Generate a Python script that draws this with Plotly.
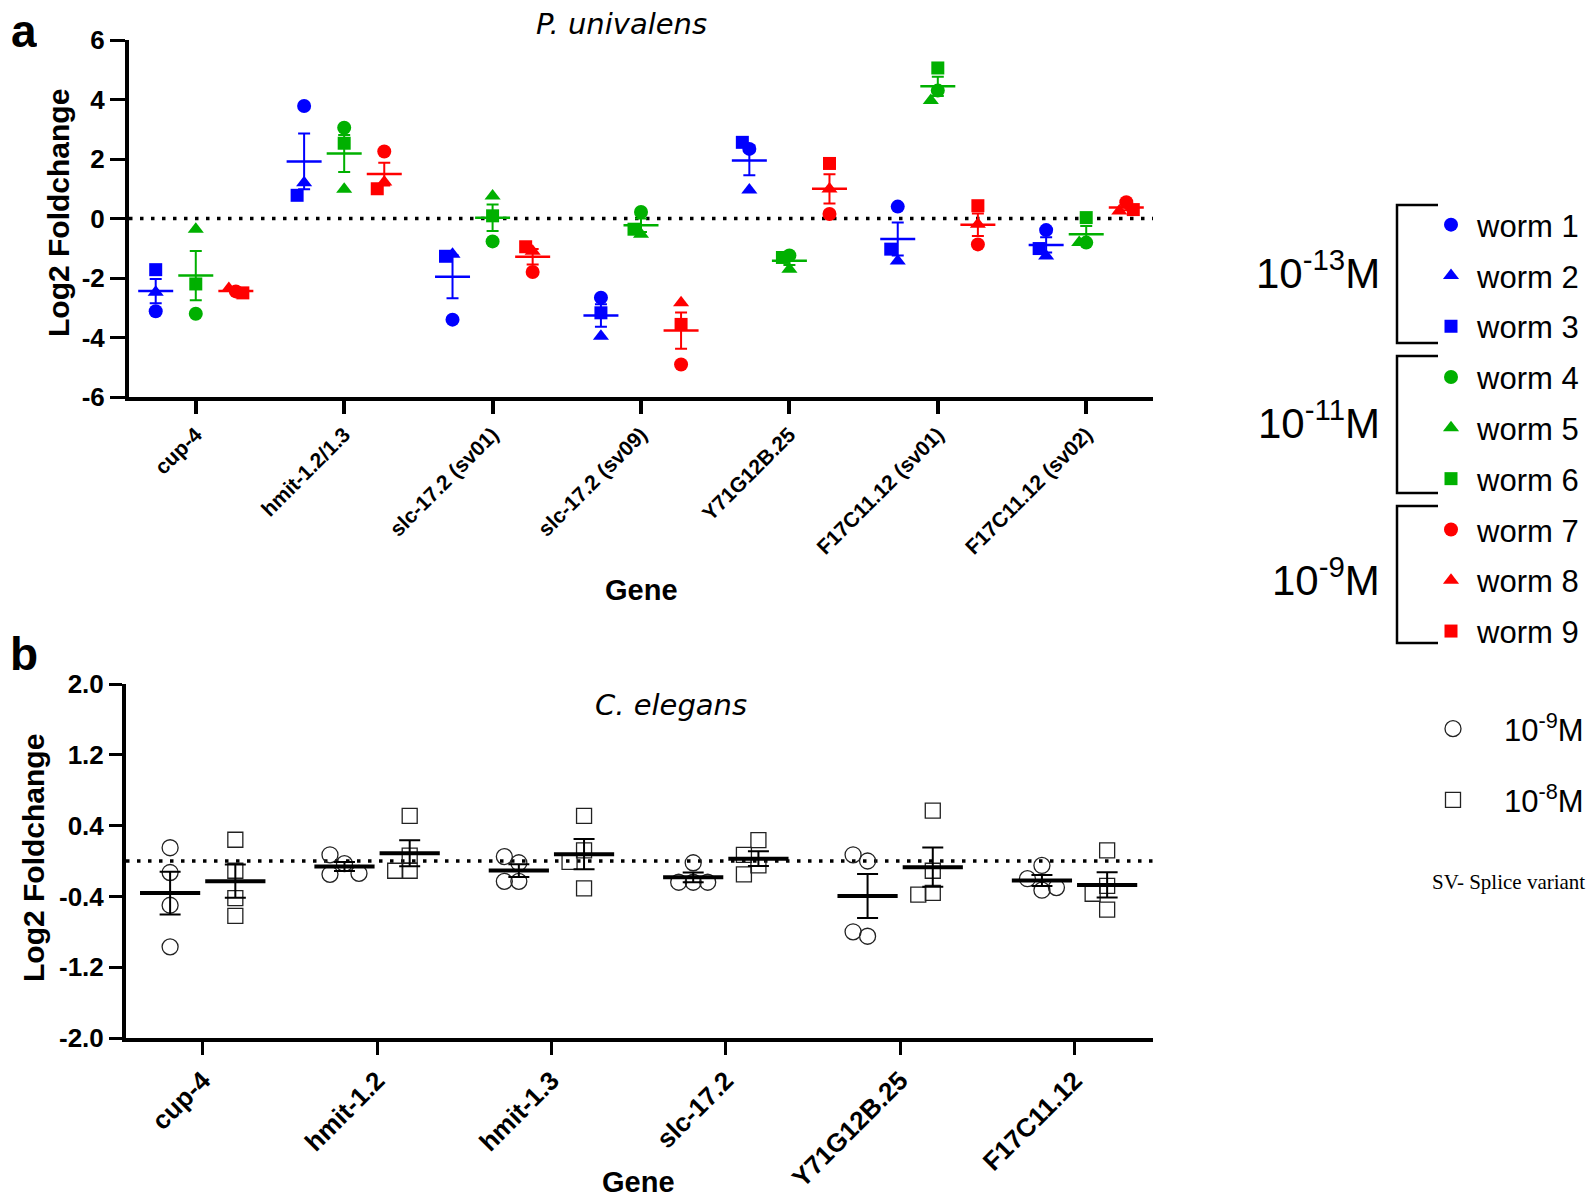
import numpy as np
import plotly.graph_objects as go

W, H = 1594, 1197
PAGE = 8  # browser body margin: the figure starts 8 px in from the page corner
FONT = "Liberation Sans, Arial, sans-serif"

# ---- panel a: P. univalens, log2 fold change per worm ----
genes_a = ["cup-4", "hmit-1.2/1.3", "slc-17.2 (sv01)", "slc-17.2 (sv09)",
           "Y71G12B.25", "F17C11.12 (sv01)", "F17C11.12 (sv02)"]
# 10^-13 M
worm1 = [-3.12, 3.78, -3.40, -2.66, 2.34, 0.40, -0.39]
worm2 = [-2.48, 1.20, -1.20, -3.96, 0.96, -1.43, -1.26]
worm3 = [-1.72, 0.78, -1.27, -3.17, 2.56, -1.03, -1.01]
# 10^-11 M
worm4 = [-3.20, 3.05, -0.77, 0.22, -1.24, 4.30, -0.81]
worm5 = [-0.36, 0.98, 0.76, -0.53, -1.71, 3.97, -0.81]
worm6 = [-2.20, 2.53, 0.09, -0.36, -1.31, 5.06, 0.03]
# 10^-9 M
worm7 = [-2.45, 2.25, -1.80, -4.91, 0.15, -0.87, 0.55]
worm8 = [-2.35, 1.23, -1.10, -2.83, 0.99, -0.19, 0.25]
worm9 = [-2.50, 1.00, -0.95, -3.56, 1.85, 0.43, 0.30]

# ---- panel b: C. elegans, four replicates per gene ----
genes_b = ["cup-4", "hmit-1.2", "hmit-1.3", "slc-17.2", "Y71G12B.25", "F17C11.12"]
ce_1e9 = [[0.15, -0.13, -0.50, -0.97],
          [-0.03, 0.07, -0.15, -0.14],
          [-0.02, 0.05, -0.23, -0.23],
          [-0.02, -0.24, -0.24, -0.24],
          [0.00, 0.07, -0.85, -0.80],
          [-0.05, -0.20, -0.33, -0.30]]
ce_1e8 = [[0.24, -0.11, -0.42, -0.62],
          [0.51, 0.06, -0.11, -0.11],
          [0.51, 0.12, -0.01, -0.31],
          [0.235, 0.07, -0.05, -0.15],
          [0.57, -0.11, -0.36, -0.38],
          [0.12, -0.28, -0.37, -0.55]]

# ---- page-pixel geometry of the two plot areas ----
A_X, A_Y = (129, 1153), (40, 397)
B_X, B_Y = (126, 1153), (684, 1038)
A_XR, A_YR = (-0.45, 6.45), (-6, 6)
B_XR, B_YR = (-0.44, 5.45), (-2, 2)


def fx(px):
    return (px - PAGE) / W


def fy(py):
    return 1 - (py - PAGE) / H


def dom_x(px):
    return [fx(px[0]), fx(px[1])]


def dom_y(py):
    return [fy(py[1]), fy(py[0])]


def ppu(px, rng):
    return (px[1] - px[0]) / (rng[1] - rng[0])


def spread(vals, py_unit, thr):
    """GraphPad-like scatter: push overlapping points to side slots."""
    slots = []
    for i, v in enumerate(vals):
        for k in (0, -1, 1, -2, 2):
            if all(s != k or abs(v - vals[j]) * py_unit >= thr for j, s in enumerate(slots)):
                slots.append(k)
                break
    return slots


fig = go.Figure()

# panel a traces
ax_ppx, ay_ppu = ppu(A_X, A_XR), ppu(A_Y, A_YR)
step_a = 7 / ax_ppx
conc_a = [("#0000ff", -0.27, [worm1, worm2, worm3], 1),
          ("#00b000", 0.0, [worm4, worm5, worm6], 4),
          ("#ff0000", 0.27, [worm7, worm8, worm9], 7)]
shapes_a = [("circle", 14), ("triangle-up", 14), ("square", 13)]

for color, off, worms, first in conc_a:
    slots = [spread([w[g] for w in worms], ay_ppu, 13) for g in range(len(genes_a))]
    for k, (w, (sym, size)) in enumerate(zip(worms, shapes_a)):
        xs = [g + off + slots[g][k] * step_a for g in range(len(genes_a))]
        fig.add_trace(go.Scatter(
            x=xs, y=w, mode="markers", name=f"worm {first + k}",
            legendgroup=f"w{first + k}", legend="legend",
            marker=dict(symbol=sym, size=size, color=color, line=dict(width=0)),
            xaxis="x", yaxis="y", cliponaxis=False))
    arr = np.array(worms)
    means = arr.mean(axis=0)
    sems = arr.std(axis=0, ddof=1) / np.sqrt(arr.shape[0])
    fig.add_trace(go.Scatter(
        x=[g + off for g in range(len(genes_a))], y=means, mode="markers",
        marker=dict(symbol="line-ew", size=25, line=dict(width=2.5, color=color)),
        error_y=dict(type="data", array=sems, color=color, thickness=2, width=6),
        showlegend=False, xaxis="x", yaxis="y", cliponaxis=False))

# panel b traces
bx_ppx, by_ppu = ppu(B_X, B_XR), ppu(B_Y, B_YR)
step_b = 14.5 / bx_ppx
conc_b = [("10<sup>-9</sup>M", "circle-open", 16, -0.187, ce_1e9),
          ("10<sup>-8</sup>M", "square-open", 15, 0.187, ce_1e8)]
for label, sym, size, off, data in conc_b:
    xs, ys = [], []
    for g, vals in enumerate(data):
        sl = spread(vals, by_ppu, 15)
        xs += [g + off + s * step_b for s in sl]
        ys += vals
    fig.add_trace(go.Scatter(
        x=xs, y=ys, mode="markers", name=label, legend="legend2", legendgroup=label,
        marker=dict(symbol=sym, size=size, color="#222222", line=dict(width=1.3, color="#222222")),
        xaxis="x2", yaxis="y2", cliponaxis=False))
    arr = np.array(data)
    means = arr.mean(axis=1)
    sems = arr.std(axis=1, ddof=1) / np.sqrt(arr.shape[1])
    fig.add_trace(go.Scatter(
        x=[g + off for g in range(len(genes_b))], y=means, mode="markers",
        marker=dict(symbol="line-ew", size=43, line=dict(width=4, color="black")),
        error_y=dict(type="data", array=sems, color="black", thickness=2, width=10.5),
        showlegend=False, xaxis="x2", yaxis="y2", cliponaxis=False))

axis_common = dict(showline=True, linewidth=4, linecolor="black", ticks="outside",
                   tickcolor="black", showgrid=False, zeroline=False, fixedrange=True,
                   automargin=False)

ya_vals = [-6, -4, -2, 0, 2, 4, 6]
yb_vals = [-2.0, -1.2, -0.4, 0.4, 1.2, 2.0]

fig.update_layout(
    width=W, height=H,
    margin=dict(l=0, r=0, t=0, b=0, autoexpand=False),
    paper_bgcolor="white", plot_bgcolor="white",
    font=dict(family=FONT, color="black"),
    xaxis=dict(domain=dom_x(A_X), anchor="y", range=A_XR,
               tickvals=list(range(len(genes_a))), ticktext=genes_a, tickangle=-45,
               ticklen=13, tickwidth=4,
               tickfont=dict(family=FONT, size=21, weight="bold", color="black"), **axis_common),
    yaxis=dict(domain=dom_y(A_Y), anchor="x", range=A_YR,
               tickvals=ya_vals, ticktext=[str(v) for v in ya_vals],
               ticklen=15, tickwidth=3,
               tickfont=dict(family=FONT, size=26, weight="bold", color="black"), **axis_common),
    xaxis2=dict(domain=dom_x(B_X), anchor="y2", range=B_XR,
                tickvals=list(range(len(genes_b))), ticktext=genes_b, tickangle=-45,
                ticklen=13, tickwidth=3,
                tickfont=dict(family=FONT, size=26, weight="bold", color="black"), **axis_common),
    yaxis2=dict(domain=dom_y(B_Y), anchor="x2", range=B_YR,
                tickvals=yb_vals, ticktext=[f"{v:.1f}" for v in yb_vals],
                ticklen=13, tickwidth=3,
                tickfont=dict(family=FONT, size=26, weight="bold", color="black"), **axis_common),
    legend=dict(x=fx(1425), y=fy(198), xanchor="left", yanchor="top",
                font=dict(family=FONT, size=31, color="black"), itemwidth=42,
                traceorder="grouped", tracegroupgap=7.5, bgcolor="rgba(0,0,0,0)"),
    legend2=dict(x=fx(1402), y=fy(702), xanchor="left", yanchor="top",
                 font=dict(family=FONT, size=31, color="black"), itemwidth=92,
                 traceorder="grouped", tracegroupgap=28, bgcolor="rgba(0,0,0,0)"),
    showlegend=True,
)

# dotted zero lines
for xr, yr in (("x domain", "y"), ("x2 domain", "y2")):
    fig.add_shape(type="line", xref=xr, yref=yr, x0=0, x1=1, y0=0, y1=0, layer="below",
                  line=dict(color="black", width=3.5, dash="3.5px,7.5px"))

# brackets for the concentration groups
for top, bot in ((205, 343), (356, 493), (506, 643)):
    x0, x1 = fx(1438), fx(1397)
    path = f"M{x0},{fy(top)} L{x1},{fy(top)} L{x1},{fy(bot)} L{x0},{fy(bot)}"
    fig.add_shape(type="path", xref="paper", yref="paper", path=path,
                  line=dict(color="black", width=2.5))


def note(x, y, text, size, **kw):
    fig.add_annotation(x=fx(x), y=fy(y), xref="paper", yref="paper", text=text,
                       showarrow=False, yanchor="middle", xanchor=kw.pop("xanchor", "center"),
                       font=dict(family=kw.pop("family", FONT), size=size,
                                 color="black", weight=kw.pop("weight", "normal")),
                       **kw)


note(9, 31, "a", 46, weight="bold", xanchor="left", height=36)
note(8, 654, "b", 46, weight="bold", xanchor="left")
note(621, 24, "<i>P. univalens</i>", 29, family="DejaVu Sans", height=32)
note(671, 705, "<i>C. elegans</i>", 29, family="DejaVu Sans")
note(641, 590, "Gene", 29, weight="bold")
note(638, 1182, "Gene", 29, weight="bold")
note(58, 213, "Log2 Foldchange", 30, weight="bold", textangle=-90)
note(33, 858, "Log2 Foldchange", 30, weight="bold", textangle=-90)
note(1382, 270, "10<sup>-13</sup>M", 42, xanchor="right")
note(1382, 420, "10<sup>-11</sup>M", 42, xanchor="right")
note(1382, 577, "10<sup>-9</sup>M", 42, xanchor="right")
note(1430, 882, "SV- Splice variant", 21, xanchor="left", family="Liberation Serif")

fig.write_html("out.html")
